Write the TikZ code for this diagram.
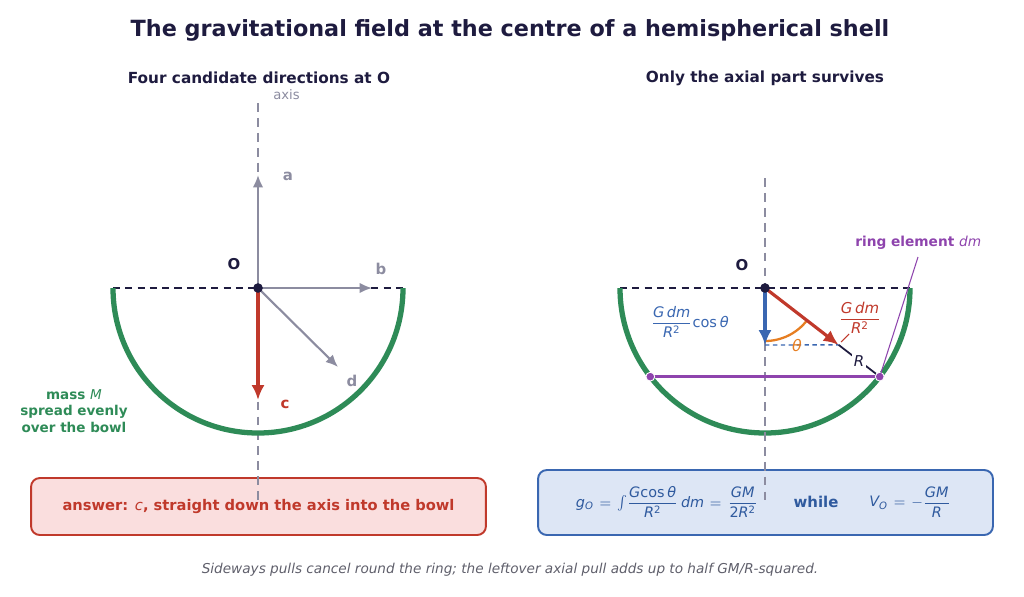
\documentclass[tikz,border=0pt]{standalone}
\usepackage{amsmath}
\usepackage{mathspec}
\setmainfont{DejaVu Sans}
\setmathsfont(Digits,Latin,Greek){DejaVu Sans}
\setmathrm{DejaVu Sans}
\usetikzlibrary{arrows.meta,calc}

\definecolor{ink}{HTML}{1E1B3F}
\definecolor{axisgray}{HTML}{8C8CA0}
\definecolor{pullred}{HTML}{C0392B}
\definecolor{shellgreen}{HTML}{2E8B57}
\definecolor{compblue}{HTML}{3A67B1}
\definecolor{textblue}{HTML}{2F5A9E}
\definecolor{ringpurple}{HTML}{8E44AD}
\definecolor{angleorange}{HTML}{E67E22}
\definecolor{notegray}{HTML}{5F5F6B}
\definecolor{answerfill}{HTML}{FADEDE}
\definecolor{resultfill}{HTML}{DDE6F5}

\newcommand{\eqs}{\mkern2mu=\mkern2mu}

\tikzset{
  tip/.style={-{Latex[length=7pt,width=6pt]}},
  bigtip/.style={-{Latex[length=8.5pt,width=7.5pt]}},
  dirarrow/.style={tip,axisgray,line width=1.2pt},
  axisline/.style={axisgray,line width=0.9pt,dash pattern=on 5pt off 3.5pt},
  rimline/.style={ink,line width=0.9pt,dash pattern=on 4pt off 3pt},
  shell/.style={shellgreen,line width=3pt},
  dot/.style={circle,fill=ink,inner sep=0pt,minimum size=5.5pt},
  ringdot/.style={circle,fill=ringpurple,draw=white,line width=0.5pt,inner sep=0pt,minimum size=5pt},
  lbl/.style={font=\bfseries\fontsize{8.5}{10}\selectfont},
  notebox/.style={rounded corners=5pt,line width=1.1pt,minimum width=9.1cm}
}

\begin{document}
\begin{tikzpicture}[x=0.02cm,y=-0.02cm,every node/.style={inner sep=0pt}]
\useasboundingbox (0,0) rectangle (1024,596);

% headings
\node[ink,font=\bfseries\fontsize{12.7}{15}\selectfont] (title) at (510,30)
  {The gravitational field at the centre of a hemispherical shell};
\node[ink,font=\bfseries\fontsize{8.7}{10}\selectfont] (headL) at (259,78) {Four candidate directions at O};
\node[ink,font=\bfseries\fontsize{8.7}{10}\selectfont] (headR) at (765,78) {Only the axial part survives};

% boxes
\node[notebox,draw=pullred,fill=answerfill,minimum height=1.14cm] (answer) at (258.5,506.5)
  {\color{pullred}\bfseries\fontsize{8.35}{10}\selectfont answer: \textmd{\itshape c}, straight down the axis into the bowl};
\node[notebox,draw=compblue,fill=resultfill,minimum height=1.3cm] (result) at (765.5,502.5) {};

% left panel
\coordinate (O1) at (258,288);
\coordinate (axtop1) at (258,103);
\coordinate (axbot1) at (258,505);
\draw[axisline] (axtop1) -- (axbot1);
\node[axisgray,font=\fontsize{7.5}{9}\selectfont,anchor=west] (axislbl) at (273,95) {axis};
\draw[rimline] ($(O1)+(-145,0)$) -- ($(O1)+(145,0)$);
\draw[shell] ($(O1)+(-145,0)$) arc[start angle=180,end angle=0,radius=145];

\coordinate (a) at (258,175);
\coordinate (b) at (372,288);
\coordinate (c) at (258,400);
\coordinate (d) at (338,367);
\draw[dirarrow] (O1) -- (a);
\draw[dirarrow] (O1) -- (b);
\draw[dirarrow] (O1) -- (d);
\draw[bigtip,pullred,line width=1.8pt] (O1) -- (c);
\node[dot] (dotO1) at (O1) {};
\node[ink,lbl] at (234,264) {O};
\node[axisgray,lbl] at (288,176) {a};
\node[axisgray,lbl] at (381,269) {b};
\node[pullred,lbl] at (285,404) {c};
\node[axisgray,lbl] at (352,381) {d};
\node[shellgreen,align=center,font=\bfseries\fontsize{7.7}{9.2}\selectfont] (mass) at (74,411)
  {mass \textmd{\itshape M}\\spread evenly\\over the bowl};

% right panel
\coordinate (O2) at (765,288);
\draw[rimline] ($(O2)+(-145,0)$) -- ($(O2)+(145,0)$);
\draw[shell] ($(O2)+(-145,0)$) arc[start angle=180,end angle=0,radius=145];
\coordinate (ringR) at ($(O2)+(37.7:145)$);
\coordinate (ringL) at ($(O2)+(142.3:145)$);
\coordinate (pull) at ($(O2)+(37.7:93)$);
\coordinate (axial) at ($(O2)+(0,57)$);
\coordinate (axtop2) at (765,178);
\coordinate (axbot2) at (765,500);
\draw[axisline] (axtop2) -- (axbot2);
\draw[ringpurple,line width=1.8pt] (ringL) -- (ringR);
\draw[compblue,line width=0.8pt,dash pattern=on 2.5pt off 2pt] (axial) -- (pull);
\draw[angleorange,line width=1.3pt] ($(O2)+(90:53)$) arc[start angle=90,end angle=37.7,radius=53];
\draw[ink,line width=1pt] (pull) -- node[fill=white,inner sep=1pt,font=\itshape\fontsize{8.5}{10}\selectfont] {R} (ringR);
\draw[bigtip,pullred,line width=1.8pt] (O2) -- (pull);
\draw[bigtip,compblue,line width=1.8pt] (O2) -- (axial);
\node[dot] (dotO2) at (O2) {};
\node[ringdot] (rdL) at (ringL) {};
\node[ringdot] (rdR) at (ringR) {};
\node[ink,lbl] at (742,265) {O};
\node[angleorange,font=\fontsize{9}{10}\selectfont] at (797,346) {$\theta$};
\node[compblue,font=\fontsize{8.3}{10}\selectfont] (comp) at (690,322) {$\dfrac{G\,dm}{R^2}\!\cos\theta$};
\node[pullred,font=\fontsize{8.5}{10}\selectfont] (mag) at (860,318) {$\dfrac{G\,dm}{R^2}$};
\draw[pullred,line width=0.6pt] (849,334) -- (841,342);
\node[ringpurple,anchor=west,font=\bfseries\fontsize{7.8}{10}\selectfont] (ringlbl) at (855,243) {ring element \textmd{\itshape dm}};
\draw[ringpurple,line width=0.6pt] (918,257) -- (ringR);

% result text
\node[textblue,font=\fontsize{8.2}{10}\selectfont] at (667,502)
  {$g_O\eqs\int\!\dfrac{G\!\cos\theta}{R^2}\,dm\eqs\dfrac{GM}{2R^2}$};
\node[textblue,lbl] at (816,502) {while};
\node[textblue,font=\fontsize{8.2}{10}\selectfont] at (910,502) {$V_O\eqs-\dfrac{GM}{R}$};

% footer
\node[notegray,font=\itshape\fontsize{7.75}{10}\selectfont] (foot) at (510,570)
  {Sideways pulls cancel round the ring; the leftover axial pull adds up to half GM/R-squared.};
\end{tikzpicture}
\end{document}
